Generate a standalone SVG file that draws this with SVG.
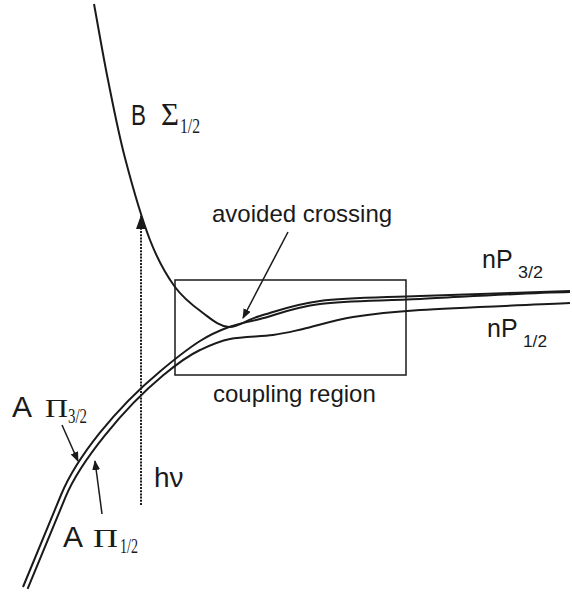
<svg xmlns="http://www.w3.org/2000/svg" width="572" height="592" viewBox="0 0 572 592">
<style>
.curve{fill:none;stroke:#1a1a1a;stroke-width:2}
.thin{fill:none;stroke:#1a1a1a;stroke-width:1.5}
.sans{font-family:"Liberation Sans",Arial,sans-serif;fill:#1a1a1a}
.serif{font-family:"Liberation Serif","Times New Roman",serif;fill:#1a1a1a}
</style>
<defs>
<marker id="ah" markerWidth="10" markerHeight="8" refX="9" refY="4" orient="auto" markerUnits="userSpaceOnUse">
<path d="M0,0 L10,4 L0,8 Z" fill="#1a1a1a"/>
</marker>
<marker id="ahBig" markerWidth="14" markerHeight="10" refX="13" refY="5" orient="auto" markerUnits="userSpaceOnUse">
<path d="M0,0 L14,5 L0,10 Z" fill="#1a1a1a"/>
</marker>
</defs>
<rect width="572" height="592" fill="#ffffff"/>
<g id="connectors">
<path id="curve-B" class="curve" d="M94,4 C98.67,29.33 102.83,54.33 108,80 C113.17,105.67 118,131.33 125,158 C132,184.67 141.67,218.5 150,240 C158.33,261.5 166.17,274.83 175,287 C183.83,299.17 194,306.33 203,313 C212,319.67 219.5,326.5 229,327 C238.5,327.5 244.83,320.33 260,316 C275.17,311.67 293.33,304.33 320,301 C346.67,297.67 378.33,297.67 420,296 C461.67,294.33 520,292.67 570,291"/>
<path id="curve-A32" class="curve" d="M23,587 L61,495 C76.6,457.2 116.2,407.8 160,371.4 C170.8,362.4 188.2,348.5 200,341 C209.3,335.1 218.7,330.8 229,327 C239,323.33 244.83,322.83 260,319 C275.17,315.17 293.33,307.33 320,304 C346.67,300.67 378.33,301 420,299 C461.67,297 520,293.17 570,292"/>
<path id="curve-A12" class="curve" d="M27.6,588.9 L65.6,496.9 C79.9,462.3 123.05,408.6 163.2,375.3 C173.2,367 188.2,355.6 200,350 C209.5,345.5 217.83,341.5 230,339 C242.17,336.5 260.83,336.67 273,335 C285.17,333.33 289.67,332 303,329 C316.33,326 333.5,320.17 353,317 C372.5,313.83 383.83,312.33 420,310 C456.17,307.67 520,305.33 570,303"/>
<path id="photon" d="M141,505 L141,216" fill="none" stroke="#1a1a1a" stroke-width="2" stroke-dasharray="2 1.2" marker-end="url(#ahBig)"/>
<path id="arrow-crossing" class="thin" d="M288,232 L243,318" marker-end="url(#ah)"/>
<path id="arrow-A32" class="thin" d="M62,425 L78,461" marker-end="url(#ah)"/>
<path id="arrow-A12" class="thin" d="M102,514 L95,461" marker-end="url(#ah)"/>
</g>
<g id="coupling-region">
<rect x="175" y="280" width="231" height="95" class="thin"/>
<text class="sans" x="213" y="402" font-size="24">coupling region</text>
</g>
<g id="avoided-crossing">
<text class="sans" x="212" y="222" font-size="24">avoided crossing</text>
</g>
<g id="label-B">
<text class="sans" x="131" y="125" font-size="30" textLength="15" lengthAdjust="spacingAndGlyphs">B</text>
<text class="serif" x="161" y="125" font-size="32" textLength="18" lengthAdjust="spacingAndGlyphs">Σ</text>
<text class="serif" x="180" y="133" font-size="21" textLength="20" lengthAdjust="spacingAndGlyphs">1/2</text>
</g>
<g id="label-A32">
<text class="sans" x="12" y="417" font-size="30">A</text>
<text class="serif" x="45" y="417" font-size="26" textLength="23" lengthAdjust="spacingAndGlyphs">Π</text>
<text class="serif" x="68" y="423" font-size="20" textLength="19" lengthAdjust="spacingAndGlyphs">3/2</text>
</g>
<g id="label-A12">
<text class="sans" x="63" y="547" font-size="30">A</text>
<text class="serif" x="93" y="547" font-size="26" textLength="25" lengthAdjust="spacingAndGlyphs">Π</text>
<text class="serif" x="120" y="553" font-size="20" textLength="18" lengthAdjust="spacingAndGlyphs">1/2</text>
</g>
<g id="label-hv">
<text class="sans" x="154" y="487" font-size="28">hν</text>
</g>
<g id="label-nP32">
<text class="sans" x="482" y="268" font-size="25">nP</text>
<text class="sans" x="518" y="278" font-size="17" textLength="25" lengthAdjust="spacingAndGlyphs">3/2</text>
</g>
<g id="label-nP12">
<text class="sans" x="487" y="337" font-size="25">nP</text>
<text class="sans" x="523" y="347" font-size="17" textLength="24" lengthAdjust="spacingAndGlyphs">1/2</text>
</g>
</svg>
